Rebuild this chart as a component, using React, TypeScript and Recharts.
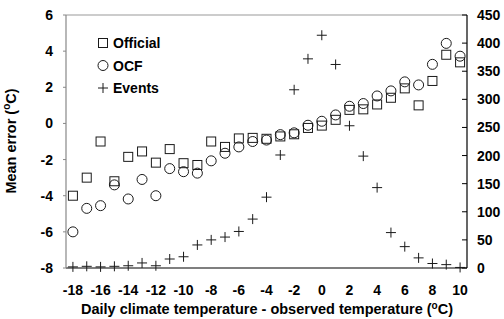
import {
  ScatterChart,
  Scatter,
  XAxis,
  YAxis,
  Legend,
  ReferenceLine,
} from "recharts";

const temps = [
  -18, -17, -16, -15, -14, -13, -12, -11, -10, -9, -8, -7, -6, -5, -4, -3, -2, -1, 0, 1, 2, 3,
  4, 5, 6, 7, 8, 9, 10,
];
const official = [
  -4.0, -3.0, -1.0, -3.2, -1.85, -1.55, -2.17, -1.42, -2.2, -2.3, -1.0, -1.3, -0.83, -0.8, -0.85,
  -0.72, -0.6, -0.25, -0.12, 0.2, 0.75, 0.78, 1.05, 1.42, 1.94, 1.0, 2.35, 3.8, 3.38,
];
const ocf = [
  -6.0, -4.7, -4.55, -3.4, -4.18, -3.1, -4.0, -2.5, -2.67, -2.75, -2.07, -1.65, -1.3, -1.0, -0.92,
  -0.62, -0.52, -0.1, 0.12, 0.47, 0.95, 1.1, 1.52, 1.8, 2.3, 2.13, 3.27, 4.43, 3.72,
];
const events = [
  2, 3, 2, 3, 4, 9, 4, 16, 20, 41, 50, 55, 65, 87, 126, 201, 317, 372, 414, 362, 253, 199, 143, 63,
  38, 18, 8, 6, 1,
];
const xTicks = [-18, -16, -14, -12, -10, -8, -6, -4, -2, 0, 2, 4, 6, 8, 10];
const leftTicks = [-8, -6, -4, -2, 0, 2, 4, 6];
const rightTicks = [0, 50, 100, 150, 200, 250, 300, 350, 400, 450];

const officialData = temps.map((t, i) => ({ t, v: official[i] }));
const ocfData = temps.map((t, i) => ({ t, v: ocf[i] }));
const eventData = temps.map((t, i) => ({ t, v: events[i] }));

const FONT = "'Liberation Sans', Arial, sans-serif";
const INK = "#1a1a1a";

function Square({ cx, cy }: any) {
  return <rect x={cx - 4.5} y={cy - 4.5} width={9} height={9} fill="none" stroke={INK} strokeWidth={1} />;
}
function Ring({ cx, cy }: any) {
  return <circle cx={cx} cy={cy} r={5} fill="none" stroke={INK} strokeWidth={1} />;
}
function Plus({ cx, cy }: any) {
  return (
    <g stroke={INK} strokeWidth={1}>
      <line x1={cx - 5} y1={cy} x2={cx + 5} y2={cy} />
      <line x1={cx} y1={cy - 5} x2={cx} y2={cy + 5} />
    </g>
  );
}

function LegendBox() {
  const rows = [
    { name: "Official", Shape: Square },
    { name: "OCF", Shape: Ring },
    { name: "Events", Shape: Plus },
  ];
  return (
    <svg width={90} height={70}>
      {rows.map((r, i) => (
        <g key={r.name}>
          <r.Shape cx={6} cy={7 + i * 22.5} />
          <text
            x={16}
            y={7 + i * 22.5}
            dy="0.36em"
            fontFamily={FONT}
            fontWeight="bold"
            fontSize={14}
            fill="#000"
          >
            {r.name}
          </text>
        </g>
      ))}
    </svg>
  );
}

const tickStyle = { fontFamily: FONT, fontWeight: "bold", fontSize: 14, fill: "#000" };

export default function App() {
  return (
    <div style={{ position: "fixed", left: 0, top: 0, width: 504, height: 319, background: "#fff" }}>
      <ScatterChart width={504} height={319} margin={{ top: 15, right: 0, bottom: 0, left: 0 }}>
        <XAxis
          type="number"
          dataKey="t"
          domain={[-18.5, 10.5]}
          ticks={xTicks}
          interval={0}
          tickLine={false}
          tickSize={0}
          tickMargin={17}
          height={51}
          axisLine={{ stroke: "#000", strokeWidth: 1.2 }}
          tick={tickStyle}
          label={() => (
            <text x={267} y={314} textAnchor="middle" fontFamily={FONT} fontWeight="bold" fontSize={14.5} fill="#000">
              Daily climate temperature - observed temperature (
              <tspan fontSize={10} dy={-5}>o</tspan>
              <tspan dy={5}>C)</tspan>
            </text>
          )}
        />
        <YAxis
          yAxisId="left"
          type="number"
          dataKey="v"
          domain={[-8, 6]}
          ticks={leftTicks}
          interval={0}
          width={66}
          tickSize={3}
          tickMargin={10}
          axisLine={{ stroke: "#888", strokeWidth: 1.2 }}
          tickLine={{ stroke: "#888" }}
          tick={tickStyle}
          label={() => (
            <text
              x={16}
              y={141}
              transform="rotate(-90 16 141)"
              textAnchor="middle"
              fontFamily={FONT}
              fontWeight="bold"
              fontSize={14.5}
              fill="#000"
            >
              Mean error (<tspan fontSize={10} dy={-6}>o</tspan>
              <tspan dy={6}>C)</tspan>
            </text>
          )}
        />
        <YAxis
          yAxisId="right"
          orientation="right"
          type="number"
          dataKey="v"
          domain={[0, 450]}
          ticks={rightTicks}
          interval={0}
          width={37}
          tickSize={-5}
          tickMargin={15}
          axisLine={{ stroke: "#000", strokeWidth: 1.2 }}
          tickLine={{ stroke: "#000" }}
          tick={tickStyle}
        />
        <ReferenceLine yAxisId="left" y={6} stroke="#bbb" strokeWidth={1.5} />
        <Legend
          layout="vertical"
          verticalAlign="middle"
          align="center"
          wrapperStyle={{ left: 97, top: 36, width: 90, height: 70 }}
          content={() => <LegendBox />}
        />
        <Scatter name="Official" yAxisId="left" data={officialData} shape={Square} isAnimationActive={false} />
        <Scatter name="OCF" yAxisId="left" data={ocfData} shape={Ring} isAnimationActive={false} />
        <Scatter name="Events" yAxisId="right" data={eventData} shape={Plus} isAnimationActive={false} />
      </ScatterChart>
    </div>
  );
}
